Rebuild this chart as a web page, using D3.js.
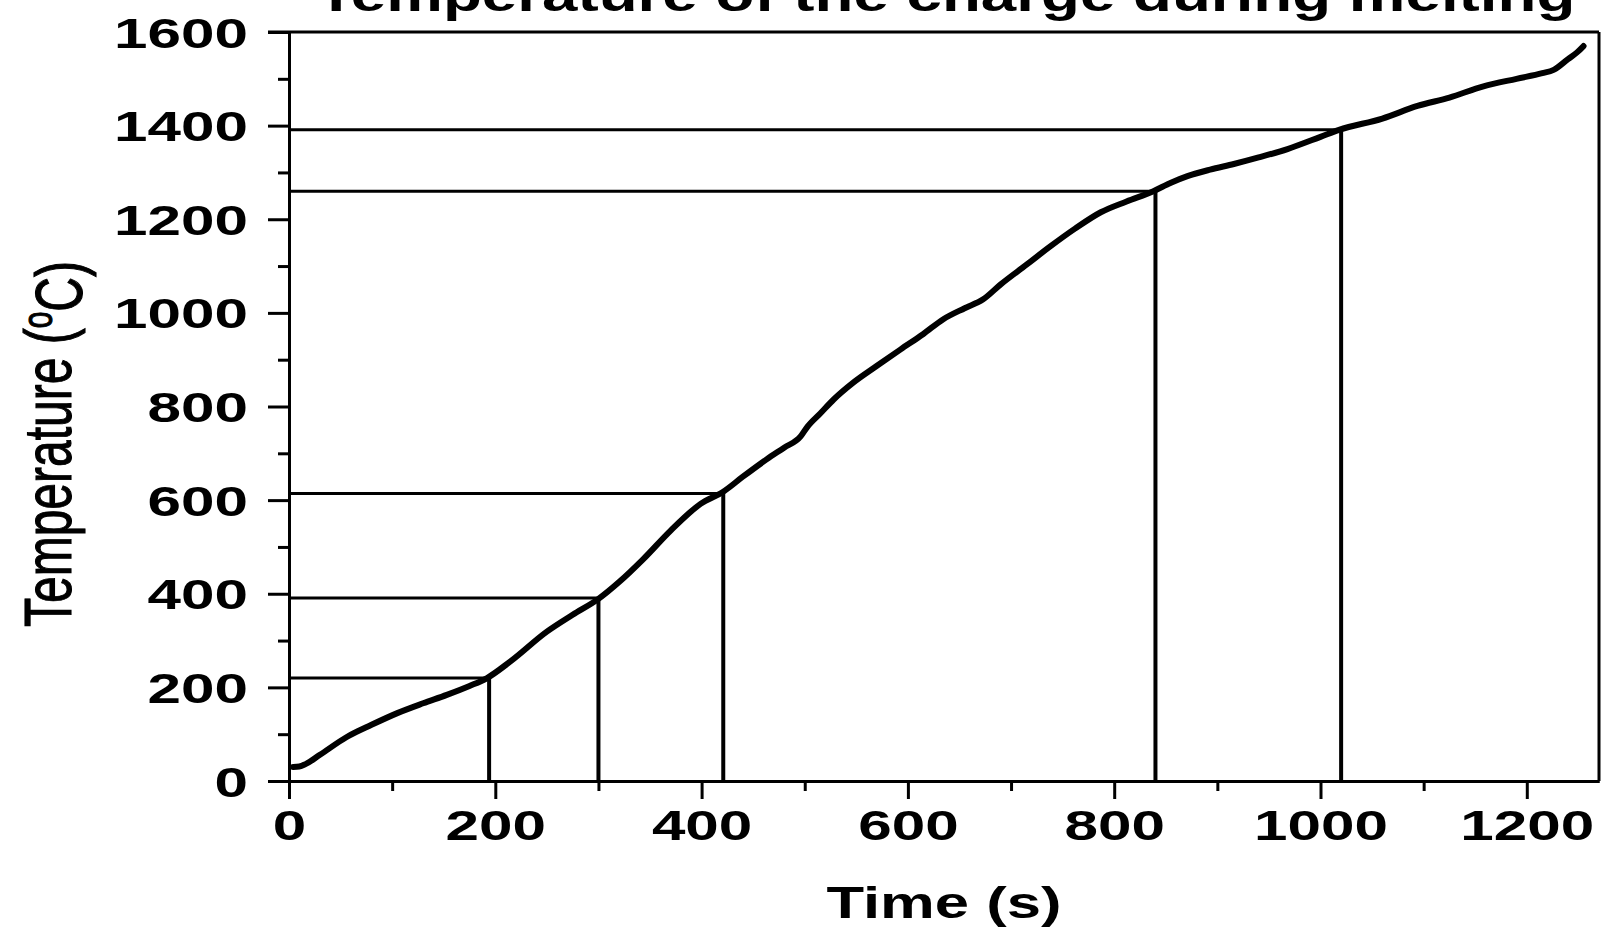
<!DOCTYPE html>
<html>
<head>
<meta charset="utf-8">
<script src="https://cdn.jsdelivr.net/npm/d3@7"></script>
<style>
  html, body { margin: 0; padding: 0; background: #fff; }
  svg { display: block; }
  .axis path, .axis line { stroke: #000; stroke-width: 3; }
  .axis text { font-family: 'Liberation Sans', Arial, sans-serif; font-weight: bold; fill: #000; }
</style>
</head>
<body>
<div class="chart"><svg></svg></div>
<script>
'use strict';

//Chart data
var timeValues = [4, 10, 16, 30, 56, 80, 105, 130, 153, 175, 192, 215, 250, 275, 300, 320, 343, 370, 399, 421, 440, 463, 480, 496, 502, 515, 528, 547, 570, 593, 615, 634, 655, 673, 690, 715, 738, 762, 787, 812, 838, 855, 871, 893, 916, 940, 968, 1000, 1018, 1060, 1094, 1125, 1158, 1190, 1215, 1226, 1240, 1249, 1255];
var tempValues = [30, 31, 36, 56, 94, 120, 145, 166, 184, 203, 220, 256, 319, 355, 389, 425, 473, 535, 592, 618, 650, 687, 712, 736, 755, 785, 815, 851, 887, 922, 955, 986, 1010, 1029, 1061, 1103, 1142, 1180, 1215, 1238, 1260, 1278, 1292, 1306, 1318, 1332, 1350, 1376, 1391, 1415, 1442, 1460, 1484, 1500, 1512, 1519, 1542, 1557, 1570];

//Marked points (drop lines to the axes)
var refTimes = [194, 300, 421, 840, 1020];
var refTemps = [220, 391, 614, 1260, 1391];

var xMajorTicks = [0, 200, 400, 600, 800, 1000, 1200];
var xMinorTicks = [100, 300, 500, 700, 900, 1100];
var yMajorTicks = [0, 200, 400, 600, 800, 1000, 1200, 1400, 1600];
var yMinorTicks = [100, 300, 500, 700, 900, 1100, 1300, 1500];

var chartTitle = 'Temperature of the charge during melting';
var xTitle = 'Time (s)';
var yTitle = 'Temperature (';
var yTitleUnit = 'C)';

var width = 1601;
var height = 929;
var stretch = 1.4; //text in the picture is stretched sideways

var svg = d3.select('.chart svg').attr('width', width).attr('height', height);

var x = d3.scaleLinear().domain([0, 1270]).range([289, 1599]);
var y = d3.scaleLinear().domain([0, 1600]).range([781, 32]);

//Minor ticks first
svg.append('g').attr('class', 'axis')
  .attr('transform', 'translate(0,' + y(0) + ')')
  .call(d3.axisBottom(x).tickValues(xMinorTicks).tickSize(10).tickSizeOuter(0).tickFormat(''));
svg.append('g').attr('class', 'axis')
  .attr('transform', 'translate(' + x(0) + ',0)')
  .call(d3.axisLeft(y).tickValues(yMinorTicks).tickSize(11).tickSizeOuter(0).tickFormat(''));

//Major ticks with labels
var xAxis = svg.append('g').attr('class', 'axis')
  .attr('transform', 'translate(0,' + y(0) + ')')
  .call(d3.axisBottom(x).tickValues(xMajorTicks).tickSize(18).tickSizeOuter(0).tickFormat(d3.format('d')));
xAxis.selectAll('text')
  .attr('y', 0).attr('dy', null)
  .attr('transform', 'translate(0,59) scale(' + stretch + ',1)')
  .style('font-size', '43px');

var yAxis = svg.append('g').attr('class', 'axis')
  .attr('transform', 'translate(' + x(0) + ',0)')
  .call(d3.axisLeft(y).tickValues(yMajorTicks).tickSize(21).tickSizeOuter(0).tickFormat(d3.format('d')));
yAxis.selectAll('text')
  .attr('x', 0).attr('dy', null)
  .attr('transform', 'translate(-41,15) scale(' + stretch + ',1)')
  .style('font-size', '43px');

//Frame top and right
svg.append('line').attr('x1', x(0) - 21).attr('x2', x(1270)).attr('y1', y(1600)).attr('y2', y(1600))
  .attr('stroke', '#000').attr('stroke-width', 3);
svg.append('line').attr('x1', x(1270)).attr('x2', x(1270)).attr('y1', y(1600)).attr('y2', y(0))
  .attr('stroke', '#000').attr('stroke-width', 3);

//Drop lines
var refs = refTimes.map(function (t, i) { return { t: t, v: refTemps[i] }; });
svg.selectAll('.hline').data(refs).enter().append('line').classed('hline', true)
  .attr('x1', x(0)).attr('x2', function (d) { return x(d.t); })
  .attr('y1', function (d) { return y(d.v); }).attr('y2', function (d) { return y(d.v); })
  .attr('stroke', '#000').attr('stroke-width', 3);
svg.selectAll('.vline').data(refs).enter().append('line').classed('vline', true)
  .attr('x1', function (d) { return x(d.t); }).attr('x2', function (d) { return x(d.t); })
  .attr('y1', function (d) { return y(d.v); }).attr('y2', y(0))
  .attr('stroke', '#000').attr('stroke-width', 4);

//Temperature curve
var points = timeValues.map(function (t, i) { return [t, tempValues[i]]; });
var line = d3.line().curve(d3.curveMonotoneX).x(function (d) { return x(d[0]); }).y(function (d) { return y(d[1]); });
svg.append('path').datum(points).attr('d', line)
  .attr('fill', 'none').attr('stroke', '#000').attr('stroke-width', 6)
  .attr('stroke-linecap', 'round').attr('stroke-linejoin', 'round');

//Titles
svg.append('text')
  .attr('transform', 'translate(946,11) scale(' + stretch + ',1)')
  .attr('text-anchor', 'middle')
  .style('font-family', "'Liberation Sans', Arial, sans-serif").style('font-weight', 'bold').style('font-size', '45.5px')
  .text(chartTitle);

svg.append('text')
  .attr('transform', 'translate(944,918) scale(' + stretch + ',1)')
  .attr('text-anchor', 'middle')
  .style('font-family', "'Liberation Sans', Arial, sans-serif").style('font-weight', 'bold').style('font-size', '44px')
  .text(xTitle);

var yLabel = svg.append('text')
  .attr('transform', 'translate(71,444) scale(' + stretch + ',1) rotate(-90)')
  .attr('text-anchor', 'middle')
  .attr('stroke', '#000').attr('stroke-width', 0.8)
  .style('font-family', "'Liberation Sans', Arial, sans-serif").style('font-size', '48px');
yLabel.append('tspan').text(yTitle);
yLabel.append('tspan').attr('dy', '-0.45em').style('font-size', '30px').text('o');
yLabel.append('tspan').attr('dy', '0.45em').text(yTitleUnit);
</script>
</body>
</html>
